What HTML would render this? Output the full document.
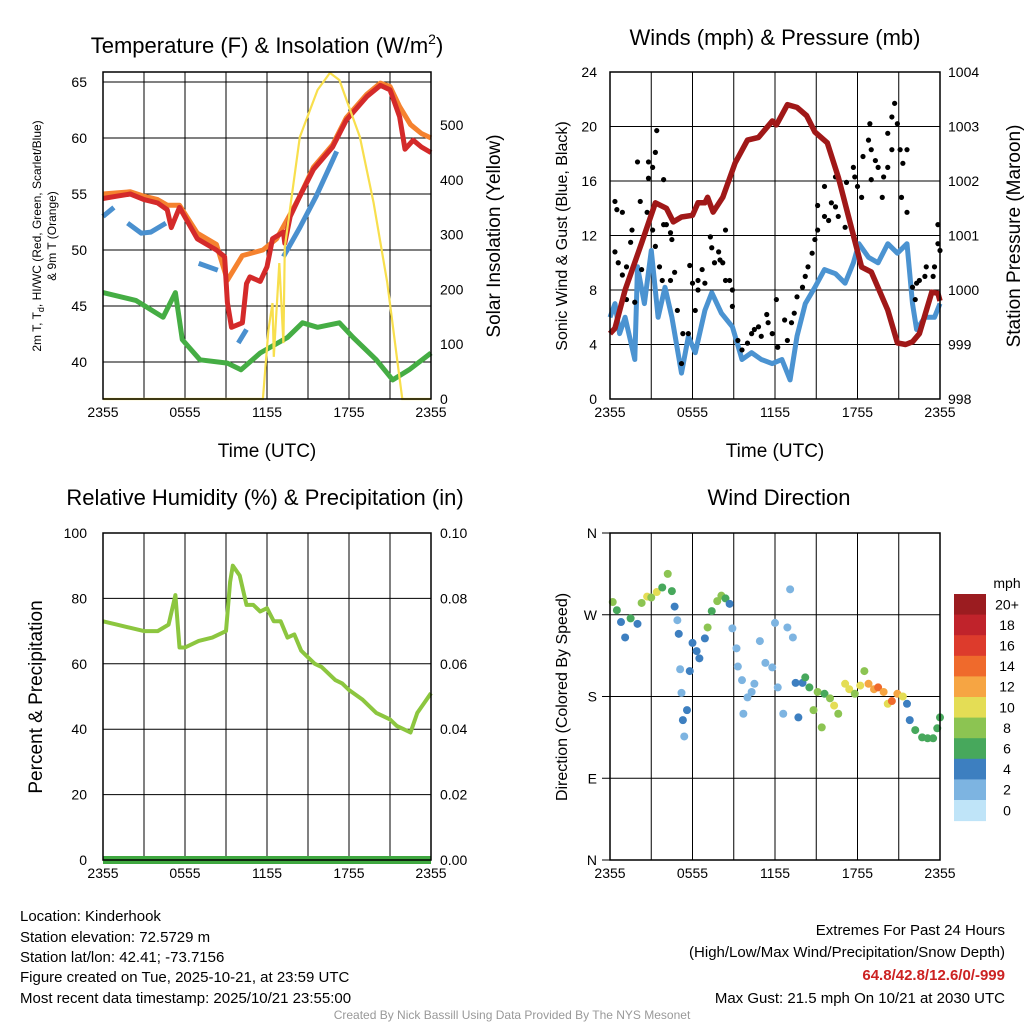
<!DOCTYPE html>
<html><head><meta charset="utf-8"><style>
body{margin:0;background:#fff}
svg{display:block;font-family:"Liberation Sans",Arial,sans-serif}
</style></head><body>
<svg id="c" width="1024" height="1024" viewBox="0 0 1024 1024">
<g id="g1"></g>
<g id="g2"></g>
<g id="g3"></g>
<g id="g4"></g>
<g font-size="15" fill="#000">
<text x="20" y="921">Location: Kinderhook</text>
<text x="20" y="942">Station elevation: 72.5729 m</text>
<text x="20" y="962">Station lat/lon: 42.41; -73.7156</text>
<text x="20" y="982">Figure created on Tue, 2025-10-21, at 23:59 UTC</text>
<text x="20" y="1003">Most recent data timestamp: 2025/10/21 23:55:00</text>
<text x="1005" y="935" text-anchor="end">Extremes For Past 24 Hours</text>
<text x="1005" y="957" text-anchor="end">(High/Low/Max Wind/Precipitation/Snow Depth)</text>
<text x="1005" y="980" text-anchor="end" fill="#cc2222" font-weight="bold">64.8/42.8/12.6/0/-999</text>
<text x="1005" y="1003" text-anchor="end">Max Gust: 21.5 mph On 10/21 at 2030 UTC</text>
<text x="512" y="1019" text-anchor="middle" font-size="12" fill="#999">Created By Nick Bassill Using Data Provided By The NYS Mesonet</text>
</g>
</svg>
<script>
// ---- temperature data (hours since 2355 UTC) ----
const redH=[0,1,2,3,4,4.7,5.0,5.6,6.9,8.3,8.9,9.1,9.4,10.2,10.5,10.75,11.5,12,12.4,13.2,13.3,13.7,14.4,15.4,16.8,17.8,19.3,20.3,21,21.7,22.1,22.7,23.3,24];
const redV=[54.6,54.8,55,54.5,54.2,53.6,52,53.8,51,50,49.4,45.3,43.1,43.5,47,47.6,47.2,48.5,51,51.6,50.6,53,54.8,57.2,59.2,61.6,63.7,64.7,64.3,61.9,59,59.8,59.2,58.7];
const orgH=[0,1,2,3,4,4.7,5.6,6.9,8.3,9.1,10.2,11.7,12.7,13.7,14.4,15.4,16.8,17.8,19.3,20.3,21,21.7,22.5,23.3,24];
const orgV=[55,55.1,55.2,54.8,54.5,54,54,51.5,50.5,47.3,49.5,50,51,53.2,54.8,57.4,59.4,61.8,63.9,64.9,64.6,62.8,61.2,60.4,60];
const bluH=[0,0.8,1.5,1.8,2.8,3.5,4.6,4.8,7.0,8.4,8.6,9.9,10.5,10.7,13.2,14.4,15.6,16.8,17.1,17.2];
const bluV=[53,53.8,null,52.4,51.5,51.6,52.4,null,48.8,48.2,null,41.7,42.9,null,49.4,52,54.8,58,58.8,null];
const grnH=[0,2.4,4.4,5.3,5.8,7.1,9.1,10.1,11.5,13.5,14.6,15.7,17.3,18.3,20.0,21.2,22.4,24];
const grnV=[46.2,45.5,44,46.2,42,40.2,39.9,39.3,40.8,42.2,43.5,43.1,43.5,42.2,40.2,38.4,39.3,40.8];
const solH=[0,11.7,12.1,12.4,12.5,12.9,13.2,13.3,14.4,15.7,16.6,17.3,18.8,19.8,20.8,21.5,21.9,24];
const solV=[0,0,126,175,77,248,102,277,478,564,595,582,478,358,212,77,0,0];
// ---- winds ----
const presH=[0,0.36,1.1,2.3,3.3,4.1,4.6,5.2,6,6.4,6.9,7.1,7.5,8.2,9.1,10,10.8,11.8,12.1,12.9,13.6,14.3,14.9,15.8,16.6,17.6,18.3,19,20.2,20.9,21.5,22,22.5,23.4,23.85,24];
const presV=[999.2,999.3,1000.0,1000.86,1001.6,1001.5,1001.25,1001.34,1001.37,1001.6,1001.6,1001.7,1001.43,1001.7,1002.33,1002.75,1002.8,1003.1,1003.03,1003.4,1003.35,1003.2,1002.9,1002.7,1002.07,1001.1,1000.42,1000.33,999.63,999.03,999.0,999.05,999.2,999.96,999.94,999.8];
const wndH=[0,0.36,0.7,1.1,1.8,2.0,2.5,3.0,3.5,4.0,4.5,5.2,5.7,6.2,6.9,7.4,8.1,8.9,9.6,10.3,11,11.8,12.5,13.1,13.6,14.2,14.9,15.6,16.4,17.1,17.7,18.1,18.8,19.5,20.2,20.9,21.6,22,22.3,22.9,23.6,24];
const wndV=[6,7.0,4.8,6.0,2.9,9.7,7.0,10.9,6.0,8.2,6.0,1.9,4.6,3.4,6.5,7.8,6.3,5.3,2.9,3.4,2.9,2.6,2.9,1.4,4.6,7.0,8.2,9.5,9.2,8.5,10.0,11.4,10.4,10.0,11.4,10.7,11.4,7.0,5.1,6.0,6.0,7.0];
const gustH=[0.36,0.5,0.36,0.6,0.9,0.9,1.2,1.5,1.6,1.2,1.8,2.0,2.2,2.3,2.8,2.8,3.1,2.7,3.1,3.3,3.4,3.3,3.6,3.9,3.9,4.1,4.4,4.5,3.8,4.4,4.7,4.9,5.3,5.2,5.7,6,5.8,6.2,6.4,6.7,6.4,6.9,7.3,7.4,7.6,7.9,8,8.4,8.2,8.4,8.7,8.9,8.9,9.3,9.6,10,10.3,10.5,10.8,11,11.4,11.5,11.8,12.1,12.2,12.7,12.9,13.2,13.4,13.6,14,14.2,14.4,14.7,14.9,15.1,15.1,15.6,15.9,16.1,16.4,15.6,16.4,16.6,17.1,17.2,17.7,17.8,18.0,18.3,18.4,18.8,18.9,19.0,19.3,19.0,19.5,19.8,19.9,20.2,20.2,20.5,20.5,20.7,20.9,21.1,21.3,21.2,21.6,21.6,22,22.3,22.5,22.9,22.2,23,23.5,23.6,23.85,23.85,24];
const gustV=[14.5,13.9,10.8,10.0,13.7,9.1,9.7,11.5,12.4,7.3,7.1,17.4,14.5,9.5,17.4,16.2,17.0,13.7,12.4,18.1,19.7,11.2,9.7,12.8,16.1,12.8,12.2,11.7,8.7,8.7,9.3,6.5,4.8,2.6,4.8,8.5,9.8,6.5,8.7,9.5,8.0,8.5,11.9,11.1,10.0,10.8,10.2,12.4,10.0,8.7,8.7,8.0,6.8,4.3,3.6,4.1,4.8,5.1,5.3,4.6,6.2,5.6,4.8,7.3,3.8,5.8,4.3,5.6,6.3,7.5,8.2,9.0,9.7,10.7,11.7,12.4,14.2,13.4,13.1,14.4,14.1,15.6,16.3,13.4,12.6,15.9,17.0,16.3,15.6,14.8,17.8,19.0,20.2,18.3,17.5,16.1,17.0,14.8,16.3,17.0,19.5,18.3,20.7,21.7,20.2,18.3,17.3,14.8,18.3,13.7,8.2,8.5,8.7,9.0,7.3,9.7,9.0,9.7,12.8,11.4,10.9];
// ---- RH ----
const rhH=[0,1,2,3,4,4.8,5.3,5.6,6,7,8,9,9.3,9.5,10,10.5,11,11.5,12,12.5,13,13.5,14,14.5,15,15.5,16,16.5,17,17.5,18,19,20,21,21.5,22,22.5,23,23.5,24];
const rhV=[73,72,71,70,70,72,81,65,65,67,68,70,85,90,87,78,78,76,77,73,73,68,69,64,62,60,59,57,55,54,52,49,45,43,41,40,39,45,48,51];
// ---- wind direction ----
const dirH=[0.2,0.5,0.8,1.1,1.5,2,2.3,2.7,3,3.4,3.8,4.2,4.5,4.7,4.9,5,5.1,5.2,5.3,5.4,5.6,5.8,6,6.3,6.5,6.9,7.1,7.4,7.8,8.1,8.4,8.7,8.9,9.2,9.3,9.6,9.7,10,10.3,10.5,10.9,11.3,11.8,12,12.2,12.6,12.9,13.1,13.3,13.5,13.7,14,14.2,14.5,14.8,15.1,15.4,15.6,16,16.3,16.6,17.1,17.4,17.8,18.2,18.5,18.8,19.2,19.5,19.9,20.2,20.5,20.9,21.3,21.6,21.8,22.2,22.7,23.1,23.5,23.8,24];
const dirV=[284,275,262,245,266,260,283,290,289,295,300,315,296,279,264,249,210,184,154,136,165,208,239,230,222,244,256,274,285,291,288,282,255,233,213,198,161,179,185,194,241,217,212,261,190,161,256,298,245,195,157,195,201,190,165,185,146,183,178,170,161,194,188,183,192,208,194,188,190,185,172,175,183,180,172,154,143,135,134,134,145,157];
const dirS=[7,5,4,3,6,4,7,9,8,10,6,7,5,3,2,3,1,2,3,2,3,4,4,3,4,4,7,6,7,7,6,4,2,2,1,2,2,2,2,2,2,2,2,2,2,2,2,1,2,3,4,4,5,6,7,8,7,6,8,10,8,9,10,8,9,8,12,11,13,12,10,13,12,10,4,4,5,6,6,6,5,6];
const cbLabels=["20+","18","16","14","12","10","8","6","4","2","0"];
const cbColors=["#9b1c20","#c0232b","#dd3b2c","#ef6a2c","#f6a543","#e4dd55","#8cc452","#47a85c","#3d7fc0","#7db4e1","#bfe4f8"];

const NS="http://www.w3.org/2000/svg";
function mk(p,tag,at){const e=document.createElementNS(NS,tag);for(const k in at)e.setAttribute(k,at[k]);p.appendChild(e);return e;}
function txt(p,x,y,s,at){const e=mk(p,'text',Object.assign({x:x,y:y},at||{}));e.textContent=s;return e;}
function lin(d0,d1,r0,r1){return v=>r0+(v-d0)*(r1-r0)/(d1-d0);}
function pathOf(H,V,fx,fy){let d='',pen=false;for(let i=0;i<H.length;i++){if(V[i]===null){pen=false;continue;}d+=(pen?'L':'M')+fx(H[i]).toFixed(1)+','+fy(V[i]).toFixed(1);pen=true;}return d;}
function frame(g,L,T,R,B,yTicks,fy){
  for(let h=3;h<24;h+=3){const x=lin(0,24,L,R)(h);const e=mk(g,'line',{x1:x,y1:T,x2:x,y2:B,stroke:'#000','stroke-width':1});}
  yTicks.forEach(v=>{const y=fy(v);const e=mk(g,'line',{x1:L,y1:y,x2:R,y2:y,stroke:'#000','stroke-width':1});});
  const xl=["2355","0555","1155","1755","2355"];
  xl.forEach((s,i)=>{const x=lin(0,24,L,R)(i*6);const t=txt(g,x,B+18,s,{'text-anchor':'middle','font-size':14});});
}
function border(g,L,T,R,B){const e=mk(g,'rect',{x:L,y:T,width:R-L,height:B-T,fill:'none',stroke:'#000','stroke-width':1.5});}

// Panel 1
(function(){
  const g=document.getElementById('g1');const L=103,T=72,R=431,B=399;
  const fx=lin(0,24,L,R), fy=lin(40,65,362,82), fs=lin(0,500,399,125);
  const yt=[40,45,50,55,60,65];
  frame(g,L,T,R,B,yt,fy);
  yt.forEach(v=>{const t=txt(g,87,fy(v)+5,String(v),{'text-anchor':'end','font-size':14});});
  [0,100,200,300,400,500].forEach(v=>{const t=txt(g,440,fs(v)+5,String(v),{'font-size':14});});
  let p;
  p=mk(g,'path',{d:pathOf(grnH,grnV,fx,fy),fill:'none',stroke:'#45ad44','stroke-width':5,'stroke-linejoin':'round'});
  p=mk(g,'path',{d:pathOf(orgH,orgV,fx,fy),fill:'none',stroke:'#f5822f','stroke-width':5,'stroke-linejoin':'round'});
  p=mk(g,'path',{d:pathOf(bluH,bluV,fx,fy),fill:'none',stroke:'#4a90cf','stroke-width':5,'stroke-linejoin':'round'});
  p=mk(g,'path',{d:pathOf(redH,redV,fx,fy),fill:'none',stroke:'#d42a2a','stroke-width':5,'stroke-linejoin':'round'});
  p=mk(g,'path',{d:pathOf(solH,solV,fx,fs),fill:'none',stroke:'#f8df4d','stroke-width':2.2});
  border(g,L,T,R,B);
  let t=txt(g,267,53,'',{'text-anchor':'middle','font-size':22});t.innerHTML='Temperature (F) &amp; Insolation (W/m<tspan dy="-9" font-size="14">2</tspan><tspan dy="9">)</tspan>';
  t=txt(g,267,457,'Time (UTC)',{'text-anchor':'middle','font-size':19});
  t=txt(g,0,0,'Solar Insolation (Yellow)',{'text-anchor':'middle','font-size':19,transform:'translate(500,236) rotate(-90)'});
  t=txt(g,0,0,'',{'text-anchor':'middle','font-size':12,transform:'translate(41,236) rotate(-90)'});t.innerHTML='2m T, T<tspan dy="3" font-size="9">d</tspan><tspan dy="-3">, HI/WC (Red, Green, Scarlet/Blue)</tspan>';
  t=txt(g,0,0,'& 9m T (Orange)',{'text-anchor':'middle','font-size':12,transform:'translate(56,236) rotate(-90)'});
})();

// Panel 2
(function(){
  const g=document.getElementById('g2');const L=610,T=72,R=940,B=399;
  const fx=lin(0,24,L,R), fy=lin(0,24,B,T), fp=lin(998,1004,B,T);
  const yt=[4,8,12,16,20];
  frame(g,L,T,R,B,yt,fy);
  [0,4,8,12,16,20,24].forEach(v=>{const t=txt(g,597,fy(v)+5,String(v),{'text-anchor':'end','font-size':14});});
  [998,999,1000,1001,1002,1003,1004].forEach(v=>{const t=txt(g,948,fp(v)+5,String(v),{'font-size':14});});
  let p=mk(g,'path',{d:pathOf(wndH,wndV,fx,fy),fill:'none',stroke:'#4b93d1','stroke-width':5,'stroke-linejoin':'round'});
  gustH.forEach((h,i)=>{const c=mk(g,'circle',{cx:fx(h),cy:fy(gustV[i]),r:2.6,fill:'#000'});});
  p=mk(g,'path',{d:pathOf(presH,presV,fx,fp),fill:'none',stroke:'#a01818','stroke-width':5.5,'stroke-linejoin':'round'});
  border(g,L,T,R,B);
  let t=txt(g,775,45,'Winds (mph) & Pressure (mb)',{'text-anchor':'middle','font-size':22});
  t=txt(g,775,457,'Time (UTC)',{'text-anchor':'middle','font-size':19});
  t=txt(g,0,0,'Sonic Wind & Gust (Blue, Black)',{'text-anchor':'middle','font-size':16,transform:'translate(567,236) rotate(-90)'});
  t=txt(g,0,0,'Station Pressure (Maroon)',{'text-anchor':'middle','font-size':19,transform:'translate(1020,236) rotate(-90)'});
})();

// Panel 3
(function(){
  const g=document.getElementById('g3');const L=103,T=533,R=431,B=860;
  const fx=lin(0,24,L,R), fy=lin(0,100,B,T), fpr=lin(0,0.1,B,T);
  const yt=[20,40,60,80];
  frame(g,L,T,R,B,yt,fy);
  [0,20,40,60,80,100].forEach(v=>{const t=txt(g,87,fy(v)+5,String(v),{'text-anchor':'end','font-size':14});});
  [0,0.02,0.04,0.06,0.08,0.10].forEach(v=>{const t=txt(g,440,fpr(v)+5,v.toFixed(2),{'font-size':14});});
  let p=mk(g,'path',{d:pathOf(rhH,rhV,fx,fy),fill:'none',stroke:'#8cc63f','stroke-width':4,'stroke-linejoin':'round'});
  p=mk(g,'line',{x1:L,y1:fpr(0),x2:R,y2:fpr(0),stroke:'#3fa840','stroke-width':8});
  border(g,L,T,R,B);
  let t=txt(g,265,505,'Relative Humidity (%) & Precipitation (in)',{'text-anchor':'middle','font-size':22});
  t=txt(g,0,0,'Percent & Precipitation',{'text-anchor':'middle','font-size':19,transform:'translate(42,697) rotate(-90)'});
})();

// Panel 4
(function(){
  const g=document.getElementById('g4');const L=610,T=533,R=940,B=860;
  const fx=lin(0,24,L,R);
  const fy=lin(0,360,B,T);
  const yt=[90,180,270];
  frame(g,L,T,R,B,yt,fy);
  [["N",360],["W",270],["S",180],["E",90],["N",0]].forEach(a=>{
    const tk=mk(g,'line',{x1:L-8,y1:fy(a[1]),x2:L,y2:fy(a[1]),stroke:'#000','stroke-width':1});
    const t=txt(g,597,fy(a[1])+5,a[0],{'text-anchor':'end','font-size':14});});
  function col(s){let i=Math.round(s/2);if(i>10)i=10;return cbColors[10-i];}
  dirH.forEach((h,i)=>{const c=mk(g,'circle',{cx:fx(h),cy:fy(dirV[i]),r:4,fill:col(dirS[i])});});
  border(g,L,T,R,B);
  let t=txt(g,779,505,'Wind Direction',{'text-anchor':'middle','font-size':22});
  t=txt(g,0,0,'Direction (Colored By Speed)',{'text-anchor':'middle','font-size':16,transform:'translate(567,697) rotate(-90)'});
  t=txt(g,1007,588,'mph',{'text-anchor':'middle','font-size':14});
  const y0=594,bh=20.6;
  cbColors.forEach((c,i)=>{const r=mk(g,'rect',{x:954,y:y0+i*bh,width:32,height:bh+0.5,fill:c});
    const tl=txt(g,1007,y0+i*bh+bh/2+5,cbLabels[i],{'text-anchor':'middle','font-size':14});});
})();
</script>
</body></html>
